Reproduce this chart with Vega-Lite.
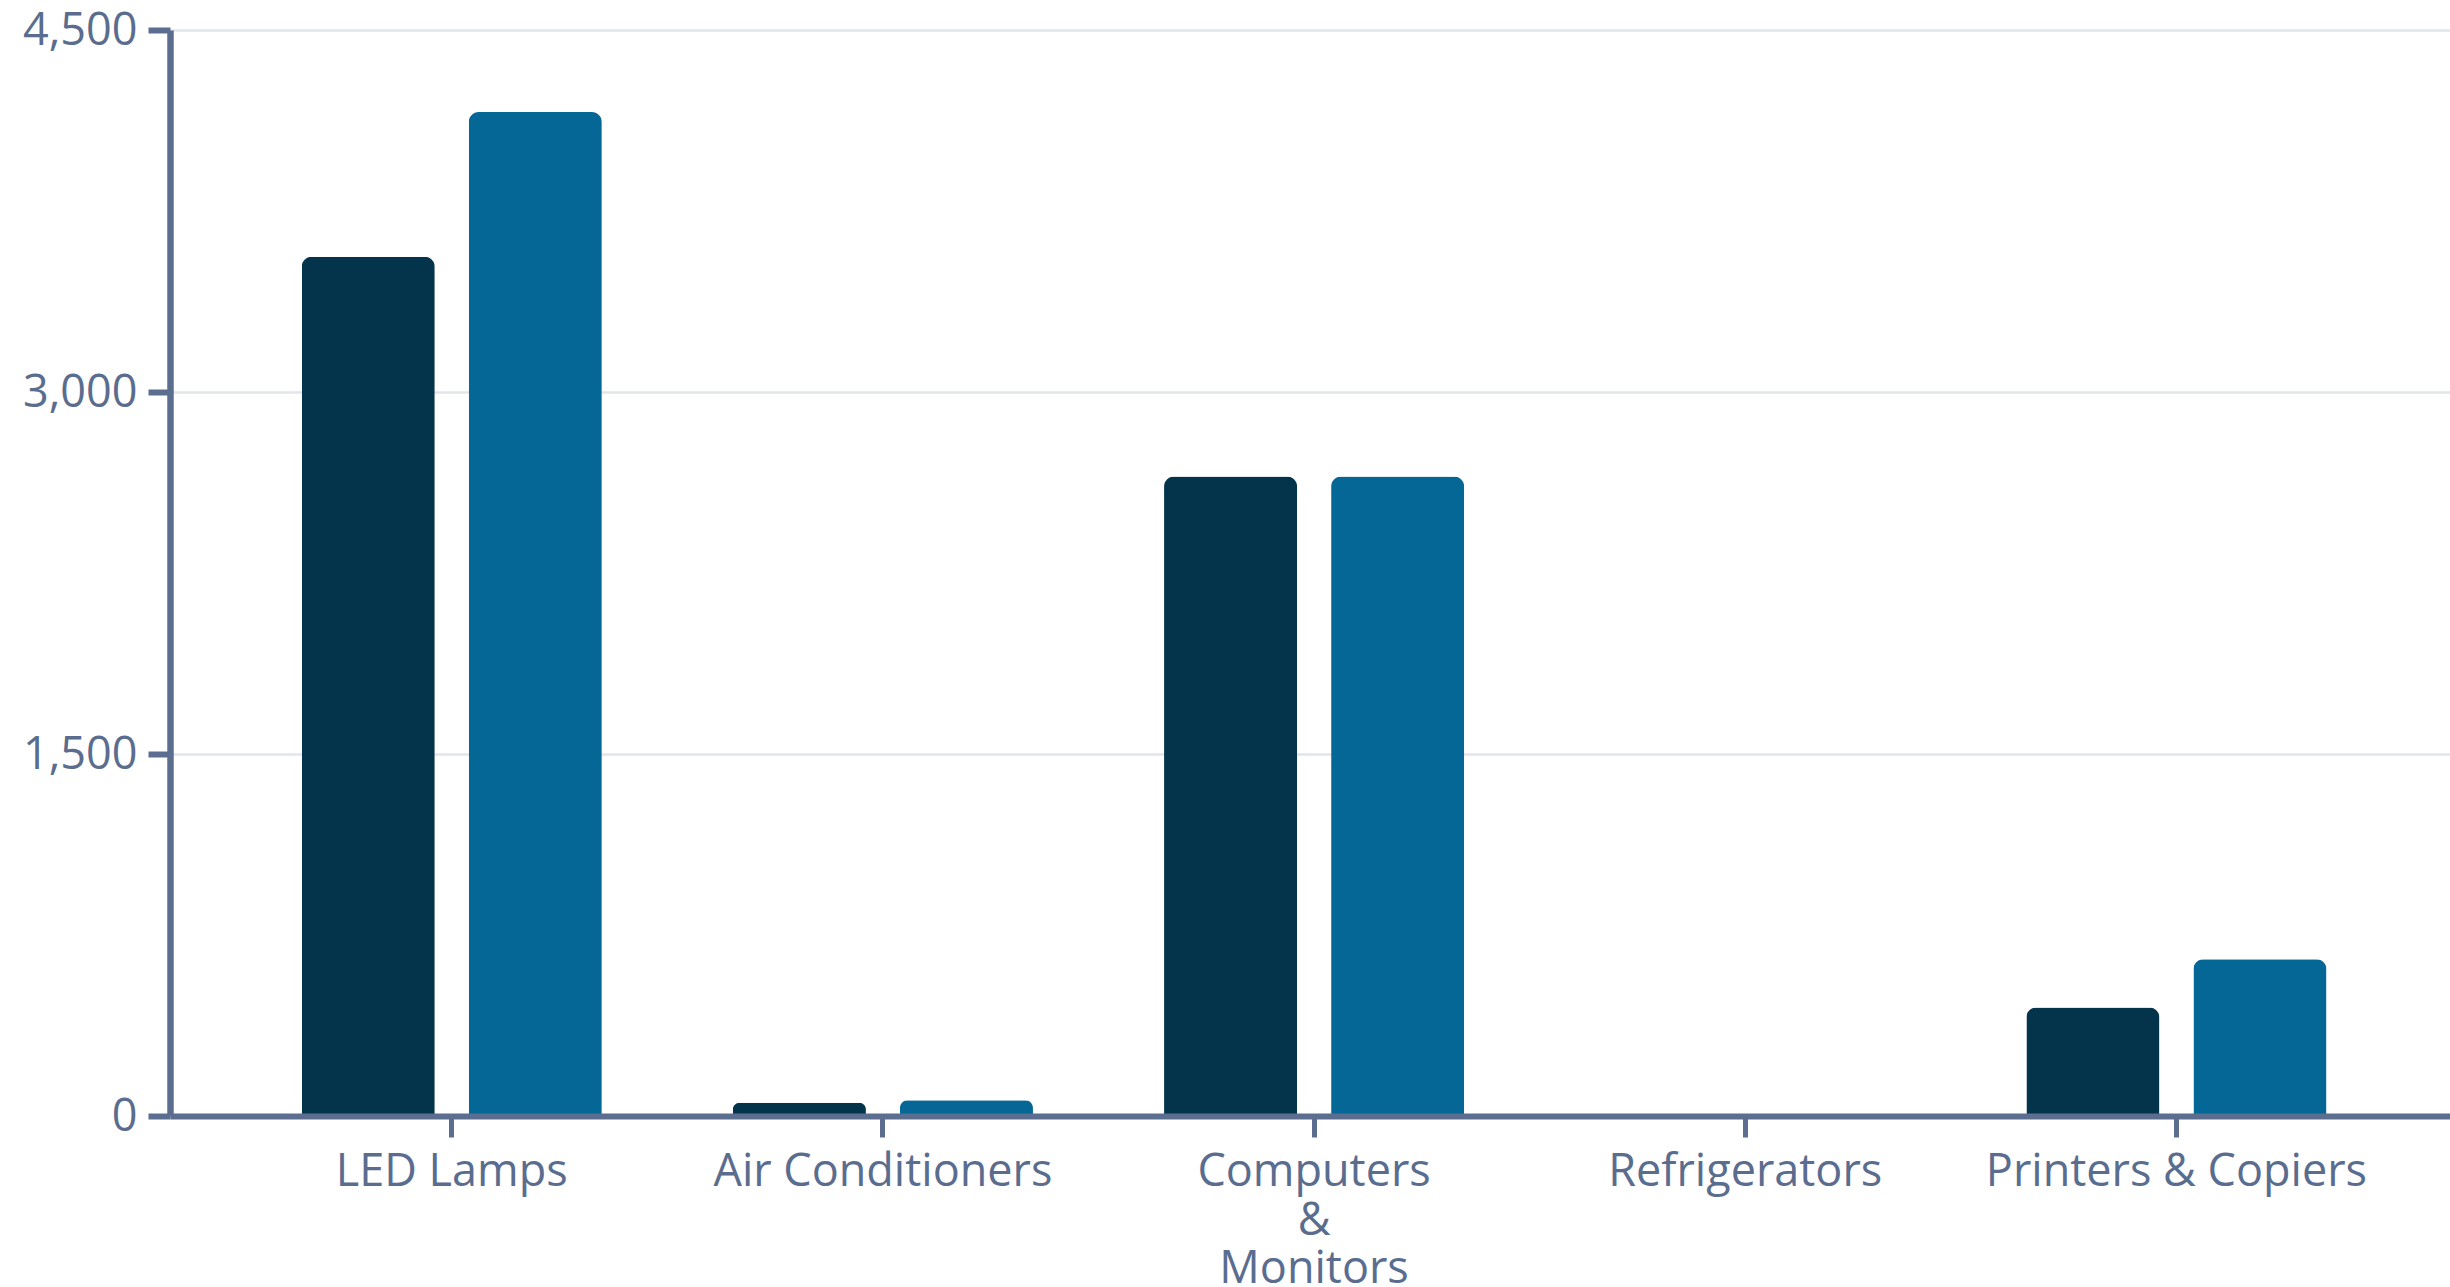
{
  "$schema": "https://vega.github.io/schema/vega-lite/v6.json",
  "width": 2280,
  "height": 1086,
  "autosize": {"type": "none"},
  "padding": {"left": 170, "top": 30, "right": 0, "bottom": 171},
  "background": "#ffffff",
  "config": {
    "view": {"stroke": null},
    "font": "Open Sans",
    "axis": {
      "labelFont": "Open Sans",
      "labelFontSize": 45,
      "labelColor": "#5a6d8f",
      "labelLimit": 1000,
      "domainColor": "#5c6e8f",
      "tickColor": "#5c6e8f",
      "title": null
    }
  },
  "data": {
    "values": [
      {"category": "LED Lamps", "series": "A", "value": 3560},
      {"category": "LED Lamps", "series": "B", "value": 4160},
      {"category": "Air Conditioners", "series": "A", "value": 55},
      {"category": "Air Conditioners", "series": "B", "value": 65},
      {"category": "Computers & Monitors", "series": "A", "value": 2650},
      {"category": "Computers & Monitors", "series": "B", "value": 2650},
      {"category": "Refrigerators", "series": "A", "value": 0},
      {"category": "Refrigerators", "series": "B", "value": 0},
      {"category": "Printers & Copiers", "series": "A", "value": 450},
      {"category": "Printers & Copiers", "series": "B", "value": 650}
    ]
  },
  "mark": {
    "type": "bar",
    "cornerRadiusTopLeft": 10,
    "cornerRadiusTopRight": 10
  },
  "encoding": {
    "x": {
      "field": "category",
      "type": "nominal",
      "sort": null,
      "scale": {"paddingInner": 0.304, "paddingOuter": 0.296, "align": 0.516},
      "axis": {
        "labelAngle": 0,
        "labelBaseline": "top",
        "labelPadding": 12.5,
        "labelLineHeight": 48.5,
        "labelExpr": "datum.value == 'Computers & Monitors' ? ['Computers', '&', 'Monitors'] : datum.label",
        "domainWidth": 6,
        "tickSize": 21,
        "tickWidth": 5,
        "grid": false,
        "zindex": 1
      }
    },
    "xOffset": {
      "field": "series",
      "type": "nominal",
      "scale": {"paddingInner": 0.2036, "paddingOuter": 0}
    },
    "y": {
      "field": "value",
      "type": "quantitative",
      "scale": {"domain": [0, 4500], "nice": false},
      "axis": {
        "values": [0, 1500, 3000, 4500],
        "labelExpr": "format(datum.value, ',.0f')",
        "grid": true,
        "gridColor": "#e2e5eb",
        "gridWidth": 2.5,
        "domainWidth": 6.5,
        "tickSize": 22,
        "tickWidth": 6,
        "labelPadding": 11,
        "zindex": 0
      }
    },
    "color": {
      "field": "series",
      "type": "nominal",
      "scale": {"domain": ["A", "B"], "range": ["#03344b", "#046796"]},
      "legend": null
    }
  }
}
